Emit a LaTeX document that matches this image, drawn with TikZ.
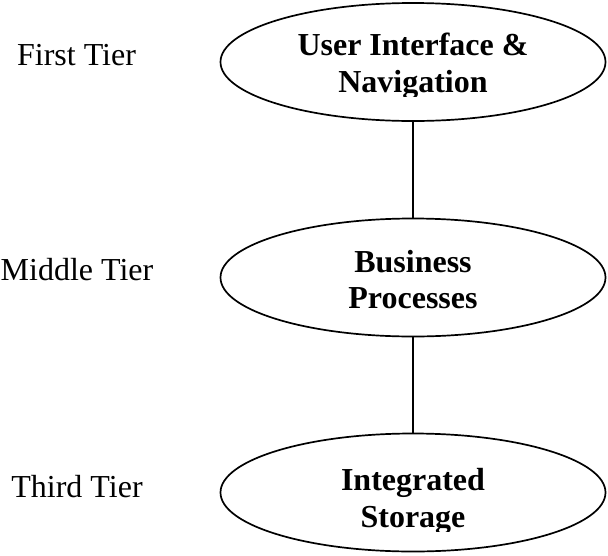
\documentclass[tikz,border=0pt]{standalone}
\usepackage{fontspec}
\setmainfont{Liberation Serif}
\usetikzlibrary{shapes.geometric}
\begin{document}
\begin{tikzpicture}[x=1pt,y=-1pt,
  tierbox/.style={draw, ellipse, line width=1.7pt, inner sep=0pt,
    minimum width=385pt, minimum height=118pt},
  boxtext/.style={anchor=base, inner sep=0pt, font=\fontsize{32}{38}\selectfont\bfseries},
  tierlabel/.style={anchor=base, inner sep=0pt, font=\fontsize{32}{38}\selectfont},
  link/.style={line width=1.7pt}]
\useasboundingbox (0,0) rectangle (608,555);

\node[tierbox] (top) at (413,62) {};
\node[tierbox] (mid) at (413,277.5) {};
\node[tierbox] (bot) at (413,492.5) {};

\draw[link] (top.south) -- (mid.north);
\draw[link] (mid.south) -- (bot.north);

\node[boxtext] (t1a) at (413,55) {User Interface \&};
\begin{scope}
  \clip (0,0) rectangle (608,96);
  \node[boxtext] (t1b) at (413,92) {Navigation};
\end{scope}

\node[boxtext] (t2a) at (413,272.5) {Business};
\node[boxtext] (t2b) at (413,308) {Processes};

\node[boxtext] (t3a) at (413,490) {Integrated};
\begin{scope}
  \clip (0,0) rectangle (608,531);
  \node[boxtext] (t3b) at (413,527) {Storage};
\end{scope}

\node[tierlabel] (l1) at (76.5,65) {First Tier};
\node[tierlabel] (l2) at (77,280) {Middle Tier};
\node[tierlabel] (l3) at (77,497) {Third Tier};
\end{tikzpicture}
\end{document}
